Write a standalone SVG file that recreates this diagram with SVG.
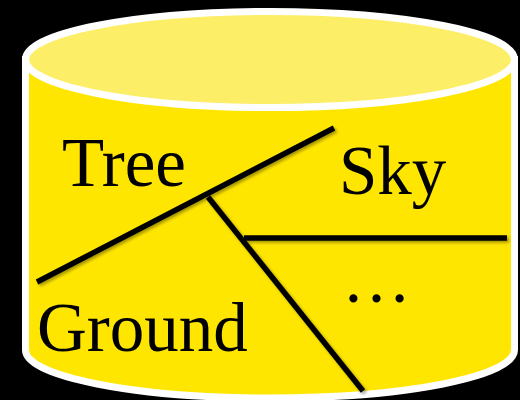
<svg xmlns="http://www.w3.org/2000/svg" width="520" height="400" viewBox="0 0 520 400">
  <defs>
    <filter id="sh" x="-10%" y="-10%" width="120%" height="120%">
      <feDropShadow dx="2" dy="2" stdDeviation="1.5" flood-color="#000" flood-opacity="0.35"/>
    </filter>
    <style>
      .lbl { font-family: "Liberation Serif", "Times New Roman", serif; font-size: 69px; fill: #000; }
      .ln { stroke: #000; stroke-width: 5.5; fill: none; }
    </style>
  </defs>
  <rect x="0" y="0" width="520" height="400" fill="#000"/>
  <g id="cylinder">
    <path d="M25.5,59.5 L25.5,350 A244.5,48 0 0 0 514.5,350 L514.5,59.5 Z" fill="#FFE600" stroke="#FFFFFF" stroke-width="7"/>
    <ellipse cx="270" cy="59.5" rx="244.5" ry="48" fill="#FDEE68" stroke="#FFFFFF" stroke-width="7"/>
  </g>
  <g id="connectors" filter="url(#sh)">
    <line class="ln" x1="37" y1="282" x2="334" y2="128"/>
    <line class="ln" x1="208" y1="197" x2="363" y2="391"/>
    <line class="ln" x1="244" y1="238" x2="507" y2="238"/>
  </g>
  <g id="tree"><text class="lbl" x="62" y="186">Tree</text></g>
  <g id="sky"><text class="lbl" x="339" y="194">Sky</text></g>
  <g id="ground"><text class="lbl" x="37" y="351">Ground</text></g>
  <g id="more"><text class="lbl" x="342" y="302">…</text></g>
</svg>
